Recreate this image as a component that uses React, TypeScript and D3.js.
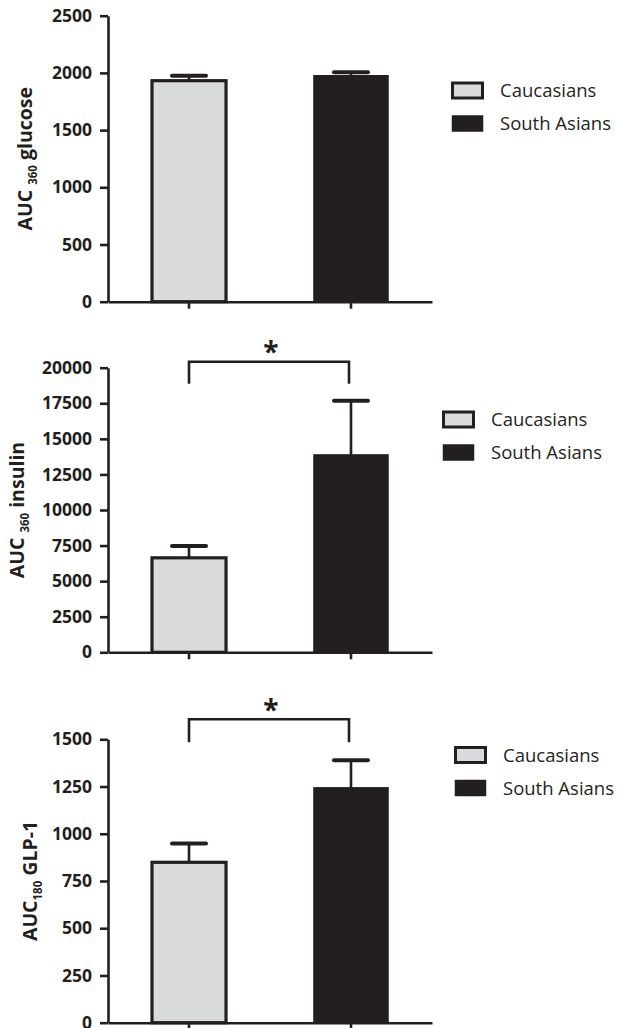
import React, { useRef, useEffect } from 'react';
import * as d3 from 'd3';

// groups shown in every panel
const groups = ['Caucasians', 'South Asians'];

// AUC360 glucose
const glucoseMeans = [1932, 1975];
const glucoseSems = [44, 31];
const glucoseTicks = [0, 500, 1000, 1500, 2000, 2500];

// AUC360 insulin
const insulinMeans = [6640, 13870];
const insulinSems = [830, 3800];
const insulinTicks = [0, 2500, 5000, 7500, 10000, 12500, 15000, 17500, 20000];
const insulinBracket = [20420, 18870]; // bracket line, leg end

// AUC180 GLP-1
const glpMeans = [849, 1243];
const glpSems = [100, 146];
const glpTicks = [0, 250, 500, 750, 1000, 1250, 1500];
const glpBracket = [1606, 1484];

const INK = '#231f20';
const LIGHT = '#d9dadb';
const FONT = "'Open Sans', 'Liberation Sans', sans-serif";

export default function App() {
    const svgRef = useRef<SVGSVGElement>(null);

    useEffect(() => {
        const svg = d3.select(svgRef.current);
        svg.selectAll('*').remove();

        const panels = [
            {
                means: glucoseMeans, sems: glucoseSems, ticks: glucoseTicks, bracket: null,
                label: ['AUC', '360', 'glucose'], subGap: 5, titleX: 32,
                top: 15.7, bottom: 301.7, legendX: 451, legendY: 90.5
            },
            {
                means: insulinMeans, sems: insulinSems, ticks: insulinTicks, bracket: insulinBracket,
                label: ['AUC', '360', 'insulin'], subGap: 5, titleX: 24,
                top: 367.7, bottom: 652.3, legendX: 442, legendY: 419.5
            },
            {
                means: glpMeans, sems: glpSems, ticks: glpTicks, bracket: glpBracket,
                label: ['AUC', '180', 'GLP-1'], subGap: 0, titleX: 37,
                top: 739.3, bottom: 1022.7, legendX: 454, legendY: 755
            }
        ];

        const x = d3.scaleBand()
            .domain(groups)
            .range([108, 432])
            .paddingInner(0.543)
            .paddingOuter(0.2716);

        panels.forEach(p => {
            const g = svg.append('g');
            const y = d3.scaleLinear()
                .domain([0, p.ticks[p.ticks.length - 1]])
                .range([p.bottom, p.top]);

            // bars
            groups.forEach((grp, i) => {
                const isFirst = i === 0;
                g.append('rect')
                    .attr('x', x(grp)!)
                    .attr('width', x.bandwidth())
                    .attr('y', y(p.means[i]))
                    .attr('height', y(0) - y(p.means[i]))
                    .attr('fill', isFirst ? LIGHT : INK)
                    .attr('stroke', INK)
                    .attr('stroke-width', isFirst ? 3.2 : 1.5);

                // upper error bar
                const cx = x(grp)! + x.bandwidth() / 2;
                g.append('line')
                    .attr('x1', cx).attr('x2', cx)
                    .attr('y1', y(p.means[i])).attr('y2', y(p.means[i] + p.sems[i]))
                    .attr('stroke', INK).attr('stroke-width', 2.6);
                g.append('line')
                    .attr('x1', cx - 17).attr('x2', cx + 17)
                    .attr('y1', y(p.means[i] + p.sems[i])).attr('y2', y(p.means[i] + p.sems[i]))
                    .attr('stroke', INK).attr('stroke-width', 4)
                    .attr('stroke-linecap', 'round');
            });

            // y axis
            g.append('g')
                .attr('transform', 'translate(108,0)')
                .call(d3.axisLeft(y).tickValues(p.ticks).tickSize(8).tickSizeOuter(0).tickPadding(8).tickFormat(d => String(d)))
                .call(a => a.selectAll('path, line').attr('stroke', INK).attr('stroke-width', 2.6))
                .call(a => a.selectAll('.tick text')
                    .attr('fill', INK)
                    .attr('font-size', 17.5)
                    .attr('font-weight', 700)
                    .attr('font-family', FONT));

            // x axis
            g.append('g')
                .attr('transform', `translate(0,${p.bottom})`)
                .call(d3.axisBottom(x).tickSize(7).tickSizeOuter(0).tickFormat(() => ''))
                .call(a => a.selectAll('path, line').attr('stroke', INK).attr('stroke-width', 2.6));

            // y axis title
            const midY = (p.top + p.bottom) / 2;
            const title = g.append('text')
                .attr('transform', `translate(${p.titleX},${midY}) rotate(-90)`)
                .attr('text-anchor', 'middle')
                .attr('fill', INK)
                .attr('font-size', 19.5)
                .attr('font-weight', 700)
                .attr('font-family', FONT);
            title.append('tspan').text(p.label[0]);
            title.append('tspan').attr('dx', p.subGap).attr('dy', 5).attr('font-size', 11.5).text(p.label[1]);
            title.append('tspan').attr('dx', 5).attr('dy', -5).text(p.label[2]);

            // significance bracket
            if (p.bracket) {
                const [lvl, leg] = p.bracket;
                const x1 = x(groups[0])! + x.bandwidth() / 2;
                const x2 = x(groups[1])! + x.bandwidth() / 2 - 2;
                g.append('path')
                    .attr('d', `M${x1},${y(leg)}V${y(lvl)}H${x2}V${y(leg)}`)
                    .attr('fill', 'none')
                    .attr('stroke', INK)
                    .attr('stroke-width', 2.6);
                g.append('text')
                    .attr('x', (x1 + x2) / 2 + 2)
                    .attr('y', y(lvl) - 12)
                    .attr('dy', '0.95em')
                    .attr('text-anchor', 'middle')
                    .attr('fill', INK)
                    .attr('font-size', 28)
                    .attr('font-weight', 700)
                    .attr('font-family', FONT)
                    .attr('transform', `translate(0,-14)`)
                    .text('*');
            }

            // legend
            groups.forEach((grp, i) => {
                const ly = p.legendY + i * 33;
                g.append('rect')
                    .attr('x', p.legendX + 1.5)
                    .attr('y', ly - 7.5)
                    .attr('width', 30)
                    .attr('height', 15)
                    .attr('fill', i === 0 ? LIGHT : INK)
                    .attr('stroke', INK)
                    .attr('stroke-width', i === 0 ? 3 : 1.5);
                g.append('text')
                    .attr('x', p.legendX + 49)
                    .attr('y', ly)
                    .attr('dy', '0.36em')
                    .attr('fill', INK)
                    .attr('font-size', 18.5)
                    .attr('font-family', FONT)
                    .text(grp);
            });
        });
    }, []);

    return (
        <svg
            ref={svgRef}
            width={618}
            height={1028}
            style={{ position: 'absolute', left: 0, top: 0, background: '#fff' }}
        />
    );
}
